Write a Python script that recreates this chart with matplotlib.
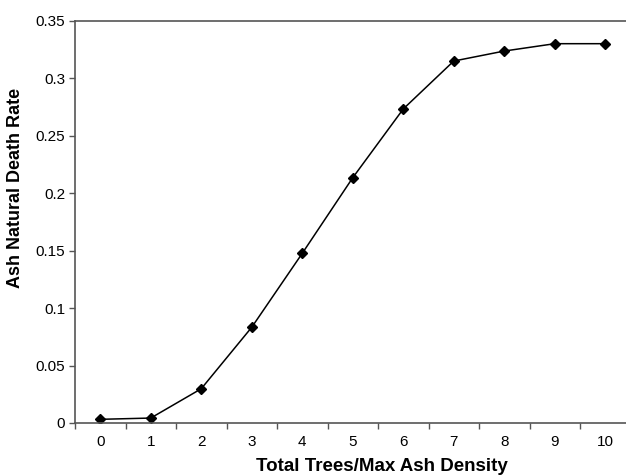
import matplotlib.pyplot as plt
from matplotlib.ticker import FuncFormatter, FixedLocator

plt.rcParams['font.family'] = ['Liberation Sans', 'DejaVu Sans']

categories = ['0', '1', '2', '3', '4', '5', '6', '7', '8', '9', '10']
death_rate = [0.0032, 0.0043, 0.0298, 0.0833, 0.1476, 0.2134, 0.2732,
              0.3149, 0.3236, 0.330, 0.330]

fig = plt.figure(figsize=(6.26, 4.75), dpi=100)
ax = fig.add_axes([75 / 626, 52 / 475, 555.5 / 626, 402.3 / 475])

x = list(range(len(categories)))
ax.plot(x, death_rate, color='black', linewidth=1.1, marker='D',
        markersize=5.5, markerfacecolor='black', markeredgecolor='black')

ax.set_xlim(-0.5, len(categories) - 0.5)
ax.set_ylim(0, 0.35)
ax.set_xticks(x)
ax.set_xticklabels(categories)
ax.xaxis.set_minor_locator(FixedLocator([i - 0.5 for i in range(len(categories) + 1)]))
ax.tick_params(axis='x', which='major', length=0, pad=9, labelsize=11)
ax.tick_params(axis='x', which='minor', length=4, width=1, color='#555555', direction='out')
ax.set_yticks([0, 0.05, 0.1, 0.15, 0.2, 0.25, 0.3, 0.35])
ax.yaxis.set_major_formatter(FuncFormatter(lambda v, p: '%g' % round(v, 2)))
ax.tick_params(axis='y', length=4, width=1, color='#555555', direction='out', labelsize=11, pad=3)

for side in ['left', 'bottom', 'top', 'right']:
    ax.spines[side].set_color('#555555')
    ax.spines[side].set_linewidth(1.2)

ax.set_xlabel('Total Trees/Max Ash Density', fontsize=13.5, fontweight='bold')
ax.set_ylabel('Ash Natural Death Rate', fontsize=13, fontweight='bold')
ax.xaxis.set_label_coords(0.5527, -0.087)
ax.yaxis.set_label_coords(-0.0918, 0.584)

plt.savefig('out.png', dpi=100)
